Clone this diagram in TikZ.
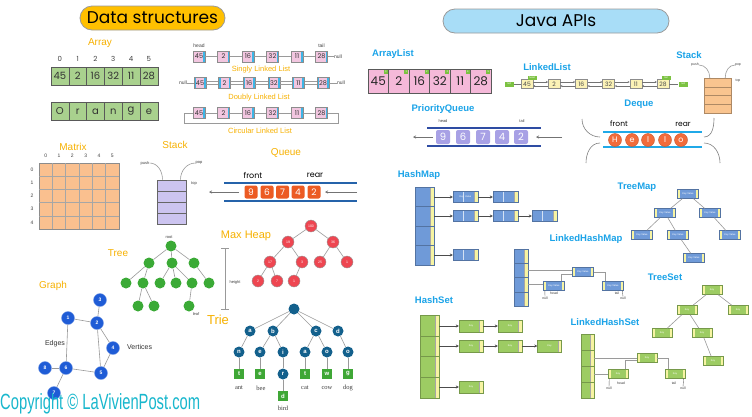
\documentclass[tikz,border=0pt]{standalone}
\usepackage{fontspec}
\usepackage{graphicx}
\setmainfont{Liberation Sans}
\newfontfamily\handfont{Poppins}
\newfontfamily\serifword{Liberation Serif}
\usetikzlibrary{arrows.meta,calc}
\definecolor{dsorange}{HTML}{F7B100}
\definecolor{javablue}{HTML}{1AA3E8}
\definecolor{pillyellow}{HTML}{FFC000}
\definecolor{pillblue}{HTML}{A8DDF7}
\definecolor{arrgreen}{HTML}{A9D18E}
\definecolor{llpink}{HTML}{F2C6E0}
\definecolor{llblue}{HTML}{3DB5E6}
\definecolor{matorange}{HTML}{FAC08F}
\definecolor{stackpurple}{HTML}{CCC4F0}
\definecolor{queueorange}{HTML}{EC5B23}
\definecolor{queueblue}{HTML}{2563AA}
\definecolor{treegreen}{HTML}{3BAA36}
\definecolor{heapred}{HTML}{EE4651}
\definecolor{graphblue}{HTML}{1F5CD6}
\definecolor{triblue}{HTML}{13608C}
\definecolor{triegreen}{HTML}{3FA736}
\definecolor{alpink}{HTML}{F5B9D9}
\definecolor{taggreen}{HTML}{7CC242}
\definecolor{llyellow}{HTML}{FBF2B6}
\definecolor{jstack}{HTML}{F9C48F}
\definecolor{pqlav}{HTML}{A8A1E5}
\definecolor{pqblue}{HTML}{2E4CA3}
\definecolor{dqorange}{HTML}{F26C3B}
\definecolor{dqblue}{HTML}{20A9E8}
\definecolor{hmblue}{HTML}{6F9AD8}
\definecolor{hmyellow}{HTML}{F7F4A2}
\definecolor{hsgreen}{HTML}{9DCC63}
\definecolor{copycyan}{HTML}{18B7CD}
\definecolor{linegray}{HTML}{9A9A9A}
\tikzset{
  pill/.style={draw=linegray, line width=0.8pt, rounded corners=12pt, minimum height=24pt, inner sep=0, font=\handfont\fontsize{17}{17}\selectfont},
  dslabel/.style={text=dsorange, inner sep=0, font=\fontsize{10}{12}\selectfont},
  jlabel/.style={text=javablue, inner sep=0, font=\bfseries\fontsize{9.5}{11}\selectfont},
  smalltxt/.style={inner sep=0, text=black!75, font=\handfont\fontsize{7}{8}\selectfont},
  tinytxt/.style={inner sep=0, text=black!75, font=\fontsize{4}{5}\selectfont},
  idxtxt/.style={inner sep=0, text=black!75, font=\handfont\fontsize{7}{8}\selectfont},
  edgeline/.style={draw=linegray, line width=0.6pt},
  arrcell/.style={draw=black!65, fill=arrgreen, minimum width=17.8pt, minimum height=18pt, inner sep=0, font=\handfont\fontsize{10}{10}\selectfont, text=black!80},
  rstrip/.style={path picture={\fill[#1] ([xshift=-2pt]path picture bounding box.north east) rectangle (path picture bounding box.south east);}},
  lrstrip/.style={path picture={\fill[#1] ([xshift=-2pt]path picture bounding box.north east) rectangle (path picture bounding box.south east); \fill[#1] (path picture bounding box.north west) rectangle ([xshift=2pt]path picture bounding box.south west);}},
  llnode/.style={draw=black!45, fill=llpink, minimum width=12pt, minimum height=11pt, inner sep=0, font=\handfont\fontsize{6.5}{7}\selectfont, text=black!80},
  stseg/.style={draw=black!60, line width=1pt, fill=stackpurple, minimum width=29pt, minimum height=11pt, inner sep=0},
  qelt/.style={fill=queueorange, rounded corners=2pt, minimum size=13pt, inner sep=0, text=white, font=\handfont\fontsize{9}{9}\selectfont},
  tnode/.style={circle, fill=treegreen, minimum size=11pt, inner sep=0},
  hnode/.style={circle, fill=heapred, draw=black!40, minimum size=12pt, inner sep=0, text=white, font=\fontsize{3.5}{4}\selectfont},
  gnode/.style={circle, fill=graphblue, draw=graphblue!60!white, minimum size=13pt, inner sep=0, text=white, font=\bfseries\fontsize{5}{5}\selectfont},
  trnode/.style={circle, fill=triblue, minimum size=11pt, inner sep=0, text=white, font=\bfseries\fontsize{6}{6}\selectfont},
  trsq/.style={fill=triegreen, minimum size=10pt, inner sep=0, text=white, font=\bfseries\fontsize{6}{6}\selectfont},
  trword/.style={inner sep=0, font=\serifword\fontsize{6.5}{7}\selectfont, text=black!75},
  alcell/.style={draw=black!65, fill=alpink, minimum width=20.5pt, minimum height=24pt, inner sep=0, font=\handfont\fontsize{12}{12}\selectfont, text=black!85},
  altag/.style={fill=taggreen, minimum width=4pt, minimum height=4pt, inner sep=0, text=white, font=\fontsize{2.5}{3}\selectfont},
  jlnode/.style={draw=black!45, fill=llyellow, minimum width=12pt, minimum height=9pt, inner sep=0, font=\handfont\fontsize{6}{6}\selectfont, text=black!70},
  jltag/.style={fill=taggreen, minimum width=9pt, minimum height=5pt, inner sep=0, text=white, font=\fontsize{2.5}{3}\selectfont},
  jsseg/.style={draw=jstack!70!black, fill=jstack, minimum width=27pt, minimum height=8.75pt, inner sep=0},
  pqelt/.style={fill=pqlav, rounded corners=2pt, minimum size=14pt, inner sep=0, text=white, font=\handfont\fontsize{10}{10}\selectfont},
  dqelt/.style={circle, fill=dqorange, draw=dqorange!80!black, minimum size=13pt, inner sep=0, text=white, font=\handfont\fontsize{8}{8}\selectfont},
  ybucket/.style={path picture={\fill[hmyellow] ([xshift=-3.5pt]path picture bounding box.north east) rectangle (path picture bounding box.south east); \draw[black!35] ([xshift=-3.5pt]path picture bounding box.north east) -- ([xshift=-3.5pt]path picture bounding box.south east);}},
  yentry/.style={path picture={\fill[hmyellow] ([xshift=-3.5pt]path picture bounding box.north east) rectangle (path picture bounding box.south east); \draw[black!35] ([xshift=-3.5pt]path picture bounding box.north east) -- ([xshift=-3.5pt]path picture bounding box.south east); \draw[white!70!hmblue] ([xshift=10.5pt]path picture bounding box.north west) -- ([xshift=10.5pt]path picture bounding box.south west);}},
  yboth/.style={path picture={\fill[hmyellow] ([xshift=-2.5pt]path picture bounding box.north east) rectangle (path picture bounding box.south east); \fill[hmyellow] (path picture bounding box.north west) rectangle ([xshift=2.5pt]path picture bounding box.south west);}},
  hmbucket/.style={draw=hmblue!75!black, fill=hmblue, minimum width=19pt, inner sep=0, ybucket},
  hmentry/.style={draw=hmblue!75!black, fill=hmblue, minimum width=25pt, minimum height=11pt, inner sep=0, text=white, font=\fontsize{2.5}{3}\selectfont, yentry},
  tmnode/.style={draw=hmblue!75!black, fill=hmblue, minimum width=21pt, minimum height=9pt, inner sep=0, text=white, font=\fontsize{2.5}{3}\selectfont, yboth},
  hsbucket/.style={draw=hsgreen!75!black, fill=hsgreen, minimum width=19pt, inner sep=0, ybucket},
  hsentry/.style={draw=hsgreen!75!black, fill=hsgreen, minimum width=24pt, minimum height=12pt, inner sep=0, text=white, font=\fontsize{2.5}{3}\selectfont, ybucket},
  tsnode/.style={draw=hsgreen!75!black, fill=hsgreen, minimum width=20pt, minimum height=9pt, inner sep=0, text=white, font=\fontsize{2.5}{3}\selectfont, yboth},
  darrow/.style={draw=black!70, line width=0.8pt, -{Stealth[length=3pt,width=3pt]}},
  garrow/.style={draw=black!55, line width=0.6pt, -{Stealth[length=3pt,width=3pt]}},
}
\begin{document}
\begin{tikzpicture}[x=1pt,y=-1pt]
\useasboundingbox (0,0) rectangle (752,416);
\fill[white] (0,0) rectangle (752,416);

% ---------- titles
\node[pill, fill=pillyellow, minimum width=145pt] (dstitle) at (152.5,18) {Data structures};
\node[pill, fill=pillblue, minimum width=226pt] (jtitle) at (556,21) {Java APIs};

% ---------- Array
\node[dslabel] (arraylbl) at (100,43) {Array};
\foreach \i/\v/\w in {0/45/O,1/2/r,2/16/a,3/32/n,4/11/g,5/28/e}{
  \node[arrcell] (a\i) at ({59.9+17.8*\i},76) {\v};
  \node[idxtxt] (ai\i) at ({59.9+17.8*\i},59) {\i};
  \node[arrcell] (b\i) at ({59.9+17.8*\i},111.5) {\w};
}

% ---------- Linked lists
\node[tinytxt, font=\fontsize{5}{6}\selectfont] (headlbl) at (199,46) {head};
\node[tinytxt, font=\fontsize{5}{6}\selectfont] (taillbl) at (321.5,46) {tail};
\foreach \i/\v in {0/45,1/2,2/16,3/32,4/11,5/28}{
  \node[llnode, rstrip=llblue] (s\i) at ({199+24.5*\i},56.5) {\v};
  \node[llnode, lrstrip=llblue] (d\i) at ({200+24.6*\i},83) {\v};
  \node[llnode, rstrip=llblue] (c\i) at ({199+24.5*\i},113) {\v};
}
\foreach \i/\j in {0/1,1/2,2/3,3/4,4/5}{
  \draw[edgeline] (s\i) -- (s\j);
  \draw[edgeline] ([yshift=1.5pt]d\i.east) -- ([yshift=1.5pt]d\j.west);
  \draw[edgeline] ([yshift=-1.5pt]d\i.east) -- ([yshift=-1.5pt]d\j.west);
  \draw[edgeline] (c\i) -- (c\j);
}
\node[tinytxt, font=\fontsize{5}{6}\selectfont] (snull) at (338,56.5) {null};
\draw[edgeline] (s5) -- (snull);
\node[tinytxt, font=\fontsize{5}{6}\selectfont] (dnulll) at (183,83) {null};
\node[tinytxt, font=\fontsize{5}{6}\selectfont] (dnullr) at (341,83) {null};
\draw[edgeline] (dnulll) -- (d0);
\draw[edgeline] (d5) -- (dnullr);
\coordinate (cl) at (184,123);
\coordinate (cr) at (338,123);
\draw[edgeline] (c0.west) -| (cl) -- (cr) |- (c5.east);
\node[dslabel, font=\fontsize{7.5}{9}\selectfont] (singlylbl) at (261,70) {Singly Linked List};
\node[dslabel, font=\fontsize{7.5}{9}\selectfont] (doublylbl) at (259,98) {Doubly Linked List};
\node[dslabel, font=\fontsize{7.5}{9}\selectfont] (circlbl) at (260,131) {Circular Linked List};

% ---------- Matrix
\node[dslabel] (matrixlbl) at (73,147) {Matrix};
\node[draw=black!45, line width=0.8pt, fill=matorange, minimum width=80pt, minimum height=66pt, inner sep=0] (mat) at (79,196) {};
\foreach \i in {1,...,5}{ \draw[black!35] ({39+13.333*\i},163) -- ({39+13.333*\i},229); }
\foreach \j in {1,...,4}{ \draw[black!35] (39,{163+13.2*\j}) -- (119,{163+13.2*\j}); }
\foreach \i in {0,...,5}{ \node[tinytxt, font=\fontsize{5}{6}\selectfont] (mc\i) at ({45.7+13.333*\i},156) {\i}; }
\foreach \j in {0,...,4}{ \node[tinytxt, font=\fontsize{5}{6}\selectfont] (mr\j) at (32,{169.6+13.2*\j}) {\j}; }

% ---------- Stack (DS)
\node[dslabel] (stacklbl) at (175,145) {Stack};
\foreach \i in {0,...,3}{ \node[stseg] (st\i) at (171.5,{185.5+11*\i}) {}; }
\node[tinytxt] (pushlbl) at (145,163) {push};
\node[tinytxt] (poplbl) at (199,163) {pop};
\node[tinytxt] (toplbl) at (194,184) {top};
\draw[edgeline] (pushlbl.east) to[out=0,in=90] ([xshift=6pt]st0.north west);
\draw[edgeline] ([xshift=-6pt]st0.north east) to[out=90,in=180] (poplbl.west);

% ---------- Queue
\node[dslabel] (queuelbl) at (286,153) {Queue};
\node[inner sep=0, font=\handfont\fontsize{8}{9}\selectfont] (frontlbl) at (253,175) {front};
\node[inner sep=0, font=\handfont\fontsize{8}{9}\selectfont] (rearlbl) at (315,175) {rear};
\coordinate (qtl) at (224,183); \coordinate (qtr) at (357,183);
\coordinate (qbl) at (224,201); \coordinate (qbr) at (357,201);
\draw[queueblue, line width=2.5pt] (qtl) -- (qtr);
\draw[queueblue, line width=2.5pt] (qbl) -- (qbr);
\foreach \i/\v/\x in {0/9/251,1/6/267,2/7/282.5,3/4/298,4/2/314}{ \node[qelt] (q\i) at (\x,192) {\v}; }
\coordinate (qa1s) at (239,192); \coordinate (qa1e) at (209,192);
\coordinate (qa2s) at (357,192); \coordinate (qa2e) at (325,192);
\draw[garrow] (qa1s) -- (qa1e);
\draw[garrow] (qa2s) -- (qa2e);

% ---------- Tree
\node[dslabel] (treelbl) at (118,253) {Tree};
\node[tinytxt] (rootlbl) at (169,237) {root};
\node[tnode] (t0) at (171,246) {};
\node[tnode] (t1) at (149,263) {};
\node[tnode] (t2) at (172,263) {};
\node[tnode] (t3) at (194,263) {};
\node[tnode] (t4) at (126,283) {};
\node[tnode] (t5) at (143,283) {};
\node[tnode] (t6) at (160,283) {};
\node[tnode] (t7) at (176,283) {};
\node[tnode] (t8) at (192,283) {};
\node[tnode] (t9) at (209,283) {};
\node[tnode] (t10) at (138,306) {};
\node[tnode] (t11) at (154,306) {};
\node[tnode] (t12) at (189,306) {};
\foreach \a/\b in {t0/t1,t0/t2,t0/t3,t1/t4,t1/t5,t2/t6,t2/t7,t2/t8,t3/t9,t5/t10,t5/t11,t8/t12}{ \draw[edgeline] (\a) -- (\b); }
\node[tinytxt] (leaflbl) at (196,314) {leaf};
\coordinate (ht) at (225,248); \coordinate (hb) at (225,309);
\draw[black!40, line width=0.8pt] (ht) -- (hb);
\draw[black!40, line width=0.8pt] ([xshift=-4pt]ht) -- ([xshift=4pt]ht);
\draw[black!40, line width=0.8pt] ([xshift=-4pt]hb) -- ([xshift=4pt]hb);
\node[tinytxt] (heightlbl) at (235,282) {height};

% ---------- Max Heap
\node[dslabel, font=\fontsize{11}{12}\selectfont] (heaplbl) at (246,236) {Max Heap};
\node[hnode] (h0) at (311,226) {100};
\node[hnode] (h1) at (288,242) {19};
\node[hnode] (h2) at (333,242) {36};
\node[hnode] (h3) at (270,262) {17};
\node[hnode] (h4) at (302,262) {3};
\node[hnode] (h5) at (320,262) {25};
\node[hnode] (h6) at (347,262) {1};
\node[hnode] (h7) at (258,281) {2};
\node[hnode] (h8) at (277,281) {7};
\node[hnode] (h9) at (294,281) {1};
\foreach \a/\b in {h0/h1,h0/h2,h1/h3,h1/h4,h2/h5,h2/h6,h3/h7,h3/h8,h4/h9}{ \draw[edgeline] (\a) -- (\b); }

% ---------- Graph
\node[dslabel] (graphlbl) at (53,286) {Graph};
\node[gnode] (g3) at (100,300) {3};
\node[gnode] (g1) at (68,318) {1};
\node[gnode] (g2) at (97,323) {2};
\node[gnode] (g4) at (113,348) {4};
\node[gnode] (g5) at (101,373) {5};
\node[gnode] (g6) at (66,368) {6};
\node[gnode] (g8) at (45,368) {8};
\node[gnode] (g7) at (54,393) {7};
\foreach \a/\b in {g1/g2,g2/g3,g2/g4,g2/g5,g4/g5,g1/g6,g6/g5,g6/g8,g6/g7}{ \draw[edgeline] (\a) -- (\b); }
\node[inner sep=0, font=\fontsize{7}{8}\selectfont, text=black!80] (edgeslbl) at (55,344) {Edges};
\node[inner sep=0, font=\fontsize{7}{8}\selectfont, text=black!80, anchor=west] (vertlbl) at (127,347) {Vertices};

% ---------- Trie
\node[dslabel, font=\fontsize{13}{14}\selectfont] (trielbl) at (218,320) {Trie};
\node[trnode] (r0) at (294,309) {};
\node[trnode] (ra) at (250,331) {a};
\node[trnode] (rb) at (273,331) {b};
\node[trnode] (rc) at (316,331) {c};
\node[trnode] (rd) at (338,331) {d};
\node[trnode] (rn) at (239,352) {n};
\node[trnode] (re) at (260,352) {e};
\node[trnode] (ri) at (283,352) {i};
\node[trnode] (ra2) at (305,352) {a};
\node[trnode] (ro1) at (327,352) {o};
\node[trnode] (ro2) at (348,352) {o};
\node[trsq] (rt1) at (239,374) {t};
\node[trsq] (re2) at (260,374) {e};
\node[trnode] (rr) at (283,374) {r};
\node[trsq] (rt2) at (305,374) {t};
\node[trsq] (rw) at (327,374) {w};
\node[trsq] (rg) at (348,374) {g};
\node[trsq] (rd2) at (283,396) {d};
\foreach \a/\b in {r0/ra,r0/rb,r0/rc,r0/rd,ra/rn,rb/re,rb/ri,rc/ra2,rc/ro1,rd/ro2,rn/rt1,re/re2,ri/rr,ra2/rt2,ro1/rw,ro2/rg,rr/rd2}{ \draw[edgeline] (\a) -- (\b); }
\node[trword] (want) at (239,388) {ant};
\node[trword] (wbee) at (261,388) {bee};
\node[trword] (wcat) at (305,388) {cat};
\node[trword] (wcow) at (327,388) {cow};
\node[trword] (wdog) at (348,388) {dog};
\node[trword] (wbird) at (283,408) {bird};

% ---------- Copyright
\node[inner sep=0, anchor=base west, text=copycyan] (copy) at (0,409) {\resizebox{200pt}{\height}{\fontsize{22}{22}\selectfont Copyright \textcopyright{} LaVivienPost.com}};

% ================= Java side
% ArrayList
\node[jlabel] (allbl) at (393,54) {ArrayList};
\foreach \i/\v in {0/45,1/2,2/16,3/32,4/11,5/28}{
  \node[alcell] (al\i) at ({378.25+20.5*\i},81) {\v};
  \node[altag] (alt\i) at ([xshift=-3pt,yshift=-3pt]al\i.north east) {\i};
}

% LinkedList
\node[jlabel] (lllbl) at (547,67) {LinkedList};
\foreach \i/\v in {0/45,1/2,2/16,3/32,4/11,5/28}{ \node[jlnode] (jl\i) at ({527+27.2*\i},84) {\v}; }
\foreach \i/\j in {0/1,1/2,2/3,3/4,4/5}{
  \draw[black!55, line width=0.5pt, -{Stealth[length=2pt,width=2pt]}] ([yshift=2pt]jl\i.east) -- ([yshift=2pt]jl\j.west);
  \draw[black!55, line width=0.5pt, -{Stealth[length=2pt,width=2pt]}] ([yshift=-2pt]jl\j.west) -- ([yshift=-2pt]jl\i.east);
}
\node[jltag] (jlnl) at (509,84) {null};
\node[jltag] (jlnr) at (683,84) {null};
\draw[black!55, line width=0.5pt] (jlnl) -- (jl0);
\draw[black!55, line width=0.5pt] (jl5) -- (jlnr);
\node[jltag, minimum height=4pt] (jlhead) at (532,77.5) {head};
\node[jltag, minimum height=4pt] (jltail) at (666,77.5) {tail};

% Java Stack
\node[jlabel] (jslbl) at (689,55) {Stack};
\foreach \i in {0,...,3}{ \node[jsseg] (js\i) at (717.5,{82.4+8.75*\i}) {}; }
\node[tinytxt, font=\fontsize{3.5}{4}\selectfont] (jspush) at (695,65) {push};
\node[tinytxt, font=\fontsize{3.5}{4}\selectfont] (jspop) at (738,65) {pop};
\node[tinytxt, font=\fontsize{3.5}{4}\selectfont] (jstop) at (738,81) {top};
\draw[edgeline] (jspush.east) to[out=0,in=90] ([xshift=6pt]js0.north west);
\draw[edgeline] ([xshift=-6pt]js0.north east) to[out=90,in=180] (jspop.west);

% PriorityQueue
\node[jlabel] (pqlbl) at (443,109) {PriorityQueue};
\node[tinytxt] (pqhead) at (443,121) {head};
\node[tinytxt] (pqtail) at (522,121) {tail};
\coordinate (pqtl) at (427,128); \coordinate (pqtr) at (541,128);
\coordinate (pqbl) at (427,146); \coordinate (pqbr) at (541,146);
\draw[pqblue, line width=2.5pt] (pqtl) -- (pqtr);
\draw[pqblue, line width=2.5pt] (pqbl) -- (pqbr);
\foreach \i/\v/\x in {0/9/443,1/6/463,2/7/483,3/4/502,4/2/521}{ \node[pqelt] (pq\i) at (\x,137) {\v}; }
\coordinate (pqa1s) at (433,137); \coordinate (pqa1e) at (413,137);
\coordinate (pqa2s) at (562,137); \coordinate (pqa2e) at (536,137);
\draw[garrow] (pqa1s) -- (pqa1e);
\draw[garrow] (pqa2s) -- (pqa2e);

% Deque
\node[jlabel] (dqlbl) at (639,104) {Deque};
\node[inner sep=0, font=\handfont\fontsize{7.5}{8}\selectfont] (dqfront) at (619,124) {front};
\node[inner sep=0, font=\handfont\fontsize{7.5}{8}\selectfont] (dqrear) at (683,124) {rear};
\coordinate (dqtl) at (603,132); \coordinate (dqtr) at (702,132);
\coordinate (dqbl) at (603,147); \coordinate (dqbr) at (702,147);
\draw[dqblue, line width=2pt] (dqtl) -- (dqtr);
\draw[dqblue, line width=2pt] (dqbl) -- (dqbr);
\foreach \i/\v/\x in {0/H/615,1/e/632,2/l/648,3/l/665,4/o/681}{ \node[dqelt] (dq\i) at (\x,140) {\v}; }
\coordinate (dc1s) at (582,119); \coordinate (dc1e) at (600,137);
\coordinate (dc2s) at (586,163); \coordinate (dc2e) at (600,143);
\coordinate (dc3s) at (714,118); \coordinate (dc3e) at (704,137);
\coordinate (dc4s) at (720,163); \coordinate (dc4e) at (704,143);
\draw[black!50, line width=0.6pt] (dc1s) to[out=-90,in=180] (dc1e);
\draw[black!50, line width=0.6pt] (dc2s) to[out=90,in=180] (dc2e);
\draw[black!50, line width=0.6pt] (dc3s) to[out=-90,in=0] (dc3e);
\draw[black!50, line width=0.6pt] (dc4s) to[out=90,in=0] (dc4e);

% HashMap
\node[jlabel] (hmlbl) at (419,175) {HashMap};
\foreach \i in {0,...,3}{ \node[hmbucket, minimum height=19.5pt] (hb\i) at (424.5,{196.75+19.5*\i}) {}; }
\node[hmentry] (he00) at (465.5,197) {Key\enspace Value\hspace{3pt}};
\node[hmentry] (he01) at (505.5,197) {};
\node[hmentry] (he10) at (465.5,216) {};
\node[hmentry] (he11) at (505.5,216) {};
\node[hmentry] (he12) at (544.5,216) {};
\node[hmentry] (he30) at (465.5,255) {};
\draw[darrow] (hb0.east |- he00.west) -- (he00.west);
\draw[darrow] (he00) -- (he01);
\draw[darrow] (hb1.east |- he10.west) -- (he10.west);
\draw[darrow] (he10) -- (he11);
\draw[darrow] (he11) -- (he12);
\draw[darrow] (hb3.east |- he30.west) -- (he30.west);

% TreeMap
\node[jlabel] (tmlbl) at (637,187) {TreeMap};
\node[tmnode] (tm0) at (688,194) {Key Value};
\node[tmnode] (tm1) at (665,213) {Key Value};
\node[tmnode] (tm2) at (710,213) {Key Value};
\node[tmnode] (tm3) at (642,235) {Key Value};
\node[tmnode] (tm4) at (678,235) {Key Value};
\node[tmnode] (tm5) at (730,235) {Key Value};
\node[tmnode] (tm6) at (694,258) {Key Value};
\foreach \a/\b in {tm0/tm1,tm0/tm2,tm1/tm3,tm1/tm4,tm2/tm5,tm4/tm6}{ \draw[edgeline] (\a) -- (\b); }

% LinkedHashMap
\node[jlabel] (lhmlbl) at (586,239) {LinkedHashMap};
\foreach \i in {0,...,3}{ \node[hmbucket, minimum width=14pt, minimum height=14.25pt] (lb\i) at (521,{256.1+14.25*\i}) {}; }
\node[tmnode] (lhA) at (583,272) {Key Value};
\node[tmnode] (lhB) at (554,285.5) {Key Value};
\node[tmnode] (lhC) at (613,285.5) {Key Value};
\draw[edgeline] (lb1.east) -- (lb1.east -| lhA.west);
\draw[edgeline] (lb2.east) -- (lb2.east -| lhB.west);
\draw[edgeline] ([xshift=-3pt]lhB.north east) |- ([yshift=-2pt]lhA.west);
\draw[edgeline] (lhA.east) -| ([xshift=3pt]lhC.north west);
\node[tinytxt, font=\fontsize{3.5}{4}\selectfont] (lhhead) at (554,293) {head};
\node[tinytxt, font=\fontsize{3.5}{4}\selectfont] (lhtail) at (617,293) {tail};
\node[tinytxt, font=\fontsize{3.5}{4}\selectfont] (lhnull1) at (545,298) {null};
\node[tinytxt, font=\fontsize{3.5}{4}\selectfont] (lhnull2) at (623,298) {null};
\draw[black!60, line width=0.4pt] ([xshift=1.5pt]lhB.south west) -- (lhnull1.north);
\draw[black!60, line width=0.4pt] ([xshift=-1.5pt]lhC.south east) -- (lhnull2.north);

% HashSet
\node[jlabel] (hslbl) at (434,300) {HashSet};
\foreach \i in {0,...,3}{ \node[hsbucket, minimum height=20.75pt] (sb\i) at (429.5,{325.4+20.75*\i}) {}; }
\node[hsentry] (se00) at (471,326) {Key};
\node[hsentry] (se01) at (510,326) {Key};
\node[hsentry] (se10) at (471,346) {Key};
\node[hsentry] (se11) at (510,346) {Key};
\node[hsentry] (se12) at (549.5,346) {Key};
\node[hsentry] (se30) at (471,387) {Key};
\draw[darrow] (sb0.east |- se00.west) -- (se00.west);
\draw[darrow] (se00) -- (se01);
\draw[darrow] (sb1.east |- se10.west) -- (se10.west);
\draw[darrow] (se10) -- (se11);
\draw[darrow] (se11) -- (se12);
\draw[darrow] (sb3.east |- se30.west) -- (se30.west);

% TreeSet
\node[jlabel] (tslbl) at (665,277) {TreeSet};
\node[tsnode] (ts0) at (712,290) {Key};
\node[tsnode] (ts1) at (687,310) {Key};
\node[tsnode] (ts2) at (738,310) {Key};
\node[tsnode] (ts3) at (662,333) {Key};
\node[tsnode] (ts4) at (702,333) {Key};
\node[tsnode] (ts5) at (713,361) {Key};
\foreach \a/\b in {ts0/ts1,ts0/ts2,ts1/ts3,ts1/ts4,ts4/ts5}{ \draw[edgeline] (\a) -- (\b); }

% LinkedHashSet
\node[jlabel] (lhslbl) at (605,322) {LinkedHashSet};
\foreach \i in {0,...,3}{ \node[hsbucket, minimum width=13pt, minimum height=16pt] (lsb\i) at (587.5,{342+16*\i}) {}; }
\node[tsnode] (lsA) at (647,358) {Key};
\node[tsnode] (lsB) at (618,373.5) {Key};
\node[tsnode] (lsC) at (675,373.5) {Key};
\draw[edgeline] (lsb1.east) -- (lsb1.east -| lsA.west);
\draw[edgeline] (lsb2.east) -- (lsb2.east -| lsB.west);
\draw[edgeline] ([xshift=-3pt]lsB.north east) |- ([yshift=-2pt]lsA.west);
\draw[edgeline] (lsA.east) -| ([xshift=3pt]lsC.north west);
\node[tinytxt, font=\fontsize{3.5}{4}\selectfont] (lshead) at (621,383) {head};
\node[tinytxt, font=\fontsize{3.5}{4}\selectfont] (lstail) at (674,383) {tail};
\node[tinytxt, font=\fontsize{3.5}{4}\selectfont] (lsnull1) at (609,388) {null};
\node[tinytxt, font=\fontsize{3.5}{4}\selectfont] (lsnull2) at (683,388) {null};
\draw[black!60, line width=0.4pt] ([xshift=1.5pt]lsB.south west) -- (lsnull1.north);
\draw[black!60, line width=0.4pt] ([xshift=-1.5pt]lsC.south east) -- (lsnull2.north);
\end{tikzpicture}
\end{document}
